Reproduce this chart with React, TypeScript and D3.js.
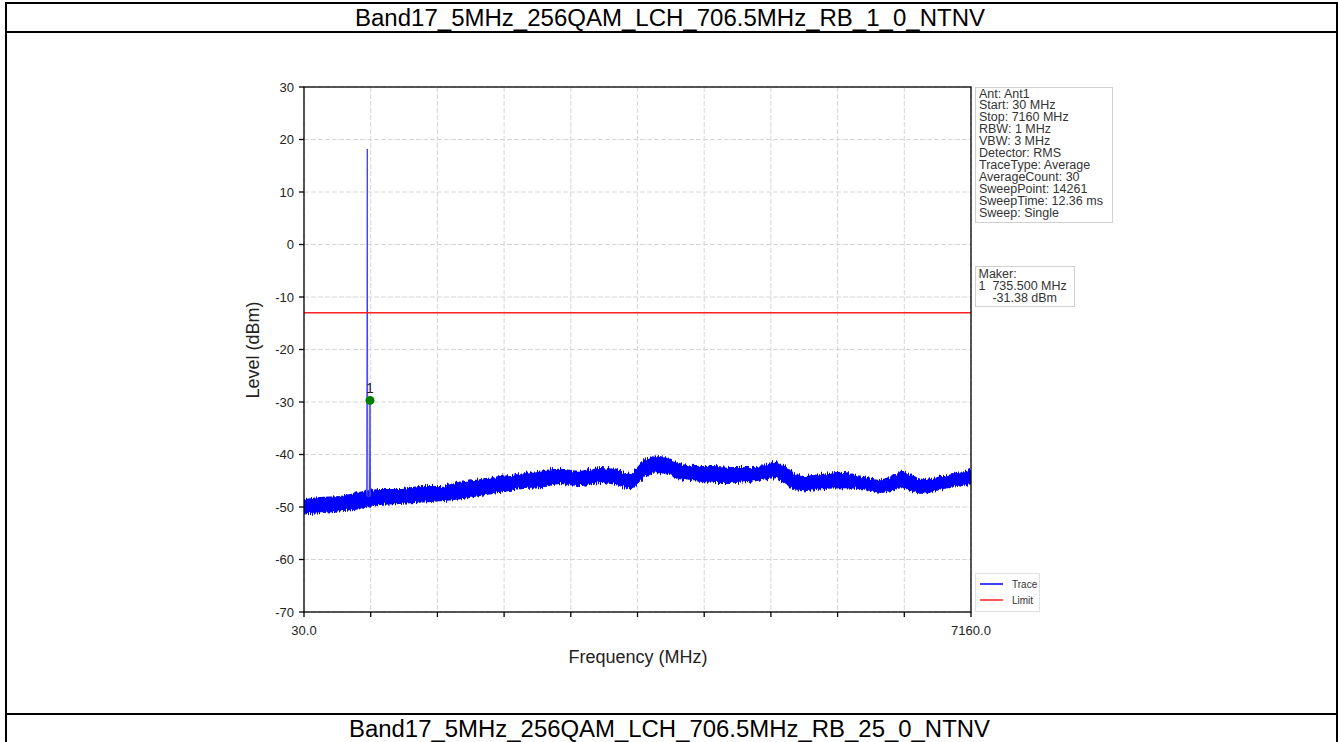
import React from "react";
import * as d3 from "d3";

const titleTop = "Band17_5MHz_256QAM_LCH_706.5MHz_RB_1_0_NTNV";
const titleBottom = "Band17_5MHz_256QAM_LCH_706.5MHz_RB_25_0_NTNV";

// Noise floor envelope (MHz, dBm)
const noiseFreq = [30, 200, 415, 630, 840, 1055, 1270, 1485, 1700, 1910, 2125, 2340, 2555, 2765, 2980, 3195, 3410, 3515, 3600, 3675, 3835, 3995, 4210, 4425, 4635, 4850, 5065, 5205, 5355, 5570, 5780, 5995, 6210, 6420, 6635, 6850, 7065, 7160];
const noiseUpper = [-48.7, -48.3, -48.1, -47.3, -46.8, -46.8, -46.2, -46.2, -45.4, -44.9, -44.3, -43.9, -43.3, -42.9, -43.3, -42.6, -43.3, -43.9, -42.4, -41.0, -40.5, -41.6, -42.4, -42.4, -42.6, -42.6, -41.6, -42.9, -44.3, -43.9, -43.5, -44.3, -44.9, -43.5, -44.9, -44.3, -43.5, -42.9];
const noiseLower = [-51.2, -51.0, -50.6, -50.2, -49.4, -49.2, -49.0, -48.7, -48.3, -47.7, -47.1, -46.4, -46.2, -45.4, -45.8, -45.2, -45.8, -46.4, -45.2, -43.9, -43.3, -44.3, -44.9, -45.2, -45.2, -44.9, -44.3, -45.8, -46.8, -46.4, -46.2, -46.4, -47.1, -46.2, -47.3, -46.4, -45.8, -45.4];

// Carrier spike
const spikeFreq = [700, 706.5, 712, 730, 735.5, 741];
const spikeLevel = [-48, 18.2, -48, -48, -29.7, -48];

const limitFreq = [30, 7160];
const limitLevel = [-13, -13];

const markerFreq = [735.5];
const markerLevel = [-29.7];
const markerLabel = ["1"];

const yTicks = [-70, -60, -50, -40, -30, -20, -10, 0, 10, 20, 30];
const xTicks = [30, 743, 1456, 2169, 2882, 3595, 4308, 5021, 5734, 6447, 7160];
const xTickLabels = ["30.0", "", "", "", "", "", "", "", "", "", "7160.0"];

const infoLines = ["Ant: Ant1", "Start: 30 MHz", "Stop: 7160 MHz", "RBW: 1 MHz", "VBW: 3 MHz", "Detector: RMS", "TraceType: Average", "AverageCount: 30", "SweepPoint: 14261", "SweepTime: 12.36 ms", "Sweep: Single"];
const makerLines = ["Maker:", "1  735.500 MHz", "    -31.38 dBm"];
const legendNames = ["Trace", "Limit"];
const legendColors = ["#0000ff", "#ff2020"];

export default function App() {
  const W = 1338, H = 742;
  const x = d3.scaleLinear().domain([30, 7160]).range([304, 971]);
  const y = d3.scaleLinear().domain([-70, 30]).range([612, 87]);
  const font = "Liberation Sans, Arial, sans-serif";

  const noise = noiseFreq.map((f, i) => ({ f, hi: noiseUpper[i], lo: noiseLower[i] }));
  const area = d3.area<any>().x(d => x(d.f)).y0(d => y(d.lo)).y1(d => y(d.hi)).curve(d3.curveMonotoneX);
  const line = d3.line<[number, number]>().x(d => x(d[0])).y(d => y(d[1]));
  const spike = spikeFreq.map((f, i) => [f, spikeLevel[i]] as [number, number]);
  const limit = limitFreq.map((f, i) => [f, limitLevel[i]] as [number, number]);

  return (
    <svg width={W} height={H} style={{ position: "absolute", left: 0, top: 0, display: "block", background: "#fff" }}>
      <defs>
        <filter id="rough" x="-2%" y="-50%" width="104%" height="200%">
          <feTurbulence type="fractalNoise" baseFrequency="0.9 0.02" numOctaves={2} seed={3} result="n" />
          <feDisplacementMap in="SourceGraphic" in2="n" scale={7} xChannelSelector="R" yChannelSelector="G" />
        </filter>
        <clipPath id="plotClip">
          <rect x={304} y={87} width={667} height={525} />
        </clipPath>
      </defs>
      <rect x={0} y={0} width={W} height={H} fill="#fff" />
      {/* page table frame */}
      <line x1={5} x2={1338} y1={3} y2={3} stroke="#000" strokeWidth={2} />
      <line x1={6} x2={6} y1={2} y2={742} stroke="#000" strokeWidth={2} />
      <line x1={1337} x2={1337} y1={2} y2={742} stroke="#000" strokeWidth={2} />
      <line x1={5} x2={1338} y1={32} y2={32} stroke="#000" strokeWidth={2} />
      <line x1={5} x2={1338} y1={714} y2={714} stroke="#000" strokeWidth={2} />
      <text x={355} y={26} fontFamily={font} fontSize={23} textLength={630} lengthAdjust="spacingAndGlyphs">{titleTop}</text>
      <text x={349} y={737} fontFamily={font} fontSize={23} textLength={641} lengthAdjust="spacingAndGlyphs">{titleBottom}</text>

      {/* grid */}
      {yTicks.map(t => (
        <line key={"gy" + t} x1={304} x2={971} y1={y(t)} y2={y(t)} stroke="#d6d6d6" strokeDasharray="5,2" />
      ))}
      {xTicks.map(t => (
        <line key={"gx" + t} x1={x(t)} x2={x(t)} y1={87} y2={612} stroke="#d6d6d6" strokeDasharray="5,2" />
      ))}

      {/* traces */}
      <g clipPath="url(#plotClip)">
        <g filter="url(#rough)">
          <path d={area(noise) || ""} fill="#0000ff" stroke="#0000ff" strokeWidth={2.2} />
        </g>
      </g>
      <path d={line(spike) || ""} fill="none" stroke="#3c3cff" strokeWidth={1} />
      <path d={line(limit) || ""} fill="none" stroke="#ff2020" strokeWidth={1.6} />
      {markerFreq.map((f, i) => (
        <g key={"m" + i}>
          <circle cx={x(f)} cy={y(markerLevel[i])} r={4.5} fill="#008000" />
          <text x={x(f)} y={y(markerLevel[i]) - 7} textAnchor="middle" fontFamily={font} fontSize={14} fill="#222">{markerLabel[i]}</text>
        </g>
      ))}

      {/* frame */}
      <rect x={304} y={87} width={667} height={525} fill="none" stroke="#000" strokeWidth={1.3} />

      {/* y axis */}
      {yTicks.map(t => (
        <g key={"ty" + t}>
          <line x1={299} x2={304} y1={y(t)} y2={y(t)} stroke="#000" strokeWidth={1.3} />
          <text x={294} y={y(t) + 4.5} textAnchor="end" fontFamily={font} fontSize={13} fill="#222">{t}</text>
        </g>
      ))}
      {/* x axis */}
      {xTicks.map((t, i) => (
        <g key={"tx" + t}>
          <line x1={x(t)} x2={x(t)} y1={612} y2={617} stroke="#000" strokeWidth={1.3} />
          {xTickLabels[i] && (
            <text x={x(t)} y={635} textAnchor="middle" fontFamily={font} fontSize={13} fill="#222">{xTickLabels[i]}</text>
          )}
        </g>
      ))}
      <text x={638} y={663} textAnchor="middle" fontFamily={font} fontSize={18} fill="#222">Frequency (MHz)</text>
      <text transform="translate(259,350) rotate(-90)" textAnchor="middle" fontFamily={font} fontSize={18} fill="#222">Level (dBm)</text>

      {/* info box */}
      <rect x={975.5} y={87.5} width={137} height={135} fill="#fff" stroke="#d0d0d0" />
      {infoLines.map((s, i) => (
        <text key={"i" + i} x={979} y={97.5 + i * 11.9} fontFamily={font} fontSize={12.5} fill="#333">{s}</text>
      ))}
      {/* maker box */}
      <rect x={975.5} y={266.5} width={99} height={40} fill="#fff" stroke="#d0d0d0" />
      {makerLines.map((s, i) => (
        <text key={"k" + i} x={978.5} y={277.5 + i * 12} fontFamily={font} fontSize={12.5} fill="#333" style={{ whiteSpace: "pre" }}>{s}</text>
      ))}
      {/* legend */}
      <rect x={975.5} y={573.5} width={64} height={38} fill="#fff" stroke="#e0e0e0" />
      {legendNames.map((s, i) => (
        <g key={"l" + i}>
          <line x1={980} x2={1003} y1={584 + i * 16} y2={584 + i * 16} stroke={legendColors[i]} strokeWidth={1.5} />
          <text x={1012} y={587.5 + i * 16} fontFamily={font} fontSize={10} fill="#333">{s}</text>
        </g>
      ))}
    </svg>
  );
}
